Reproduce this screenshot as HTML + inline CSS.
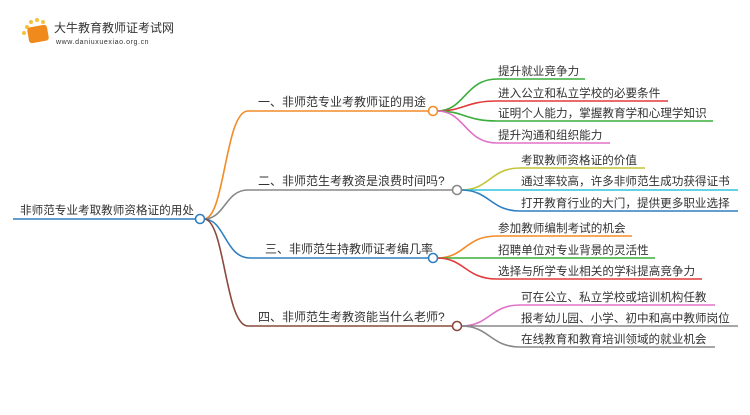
<!DOCTYPE html>
<html><head><meta charset="utf-8"><style>
body{margin:0;background:#fff;width:750px;height:410px;overflow:hidden;font-family:"Liberation Sans","Noto Sans CJK SC",sans-serif}
svg text{font-family:"Liberation Sans","Noto Sans CJK SC",sans-serif;fill:#333}
</style></head><body>
<svg width="750" height="410" viewBox="0 0 750 410" xmlns="http://www.w3.org/2000/svg">
<circle cx="27" cy="27" r="2" fill="#f6c23e"/><circle cx="31" cy="22" r="2" fill="#f6c23e"/><circle cx="37" cy="20" r="2" fill="#f6c23e"/><circle cx="43" cy="22" r="2" fill="#f6c23e"/><circle cx="24" cy="33" r="2" fill="#f6c23e"/>
<rect x="28" y="26" width="20" height="16" rx="3" fill="#f08a1c" transform="rotate(-10 38 34)"/>
<text x="54" y="32" font-size="12" fill="#333">大牛教育教师证考试网</text>
<text x="56" y="44" font-size="7" fill="#888" letter-spacing="0.6">www.daniuxuexiao.org.cn</text>
<g fill="none" stroke-width="1.6">
<path d="M13 219H196" stroke="#2f7fc1"/>
<path d="M204 219C225 219 225 111 248 111H429" stroke="#f28c28"/>
<path d="M204 219C225 219 225 190 248 190H453" stroke="#888"/>
<path d="M204 219C225 219 225 258 250 258H429" stroke="#2f7fc1"/>
<path d="M204 219C225 219 225 326 248 326H453" stroke="#8b4a3c"/>
<path d="M437 111C465 111 465 79 497 79H585" stroke="#3aad3a"/>
<path d="M437 111C465 111 465 101 497 101H668" stroke="#e03c3c"/>
<path d="M437 111C465 111 465 121 497 121H713" stroke="#3aad3a"/>
<path d="M437 111C465 111 465 143 497 143H610" stroke="#e070c8"/>
<path d="M461 190C490 190 490 168 520 168H645" stroke="#c4c43a"/>
<path d="M461 190H738" stroke="#2ec4dc"/>
<path d="M461 190C490 190 490 211 520 211H738" stroke="#2f7fc1"/>
<path d="M437 258C465 258 465 236 497 236H632" stroke="#f28c28"/>
<path d="M437 258H655" stroke="#3aad3a"/>
<path d="M437 258C465 258 465 279 497 279H702" stroke="#e03c3c"/>
<path d="M461 326C490 326 490 305 520 305H715" stroke="#e070c8"/>
<path d="M461 326H738" stroke="#888"/>
<path d="M461 326C490 326 490 347 520 347H715" stroke="#888"/>
</g>
<g fill="#fff" stroke-width="1.6">
<circle cx="200" cy="219" r="4.5" stroke="#2f7fc1"/>
<circle cx="433" cy="111" r="4.5" stroke="#f28c28"/>
<circle cx="457" cy="190" r="4.5" stroke="#888"/>
<circle cx="433" cy="258" r="4.5" stroke="#2f7fc1"/>
<circle cx="457" cy="326" r="4.5" stroke="#8b4a3c"/>
</g>
<g font-size="12">
<text x="20" y="214" font-size="11.6">非师范专业考取教师资格证的用处</text>
<text x="258" y="106">一、非师范专业考教师证的用途</text>
<text x="258" y="185">二、非师范生考教资是浪费时间吗?</text>
<text x="265" y="253">三、非师范生持教师证考编几率</text>
<text x="258" y="321">四、非师范生考教资能当什么老师?</text>
</g>
<g font-size="11.6">
<text x="498" y="75">提升就业竞争力</text>
<text x="498" y="97">进入公立和私立学校的必要条件</text>
<text x="498" y="117">证明个人能力，掌握教育学和心理学知识</text>
<text x="498" y="139">提升沟通和组织能力</text>
<text x="521" y="164">考取教师资格证的价值</text>
<text x="521" y="185">通过率较高，许多非师范生成功获得证书</text>
<text x="521" y="207">打开教育行业的大门，提供更多职业选择</text>
<text x="498" y="232">参加教师编制考试的机会</text>
<text x="498" y="254">招聘单位对专业背景的灵活性</text>
<text x="498" y="275">选择与所学专业相关的学科提高竞争力</text>
<text x="521" y="301">可在公立、私立学校或培训机构任教</text>
<text x="521" y="322">报考幼儿园、小学、初中和高中教师岗位</text>
<text x="521" y="343">在线教育和教育培训领域的就业机会</text>
</g>
</svg>
</body></html>
